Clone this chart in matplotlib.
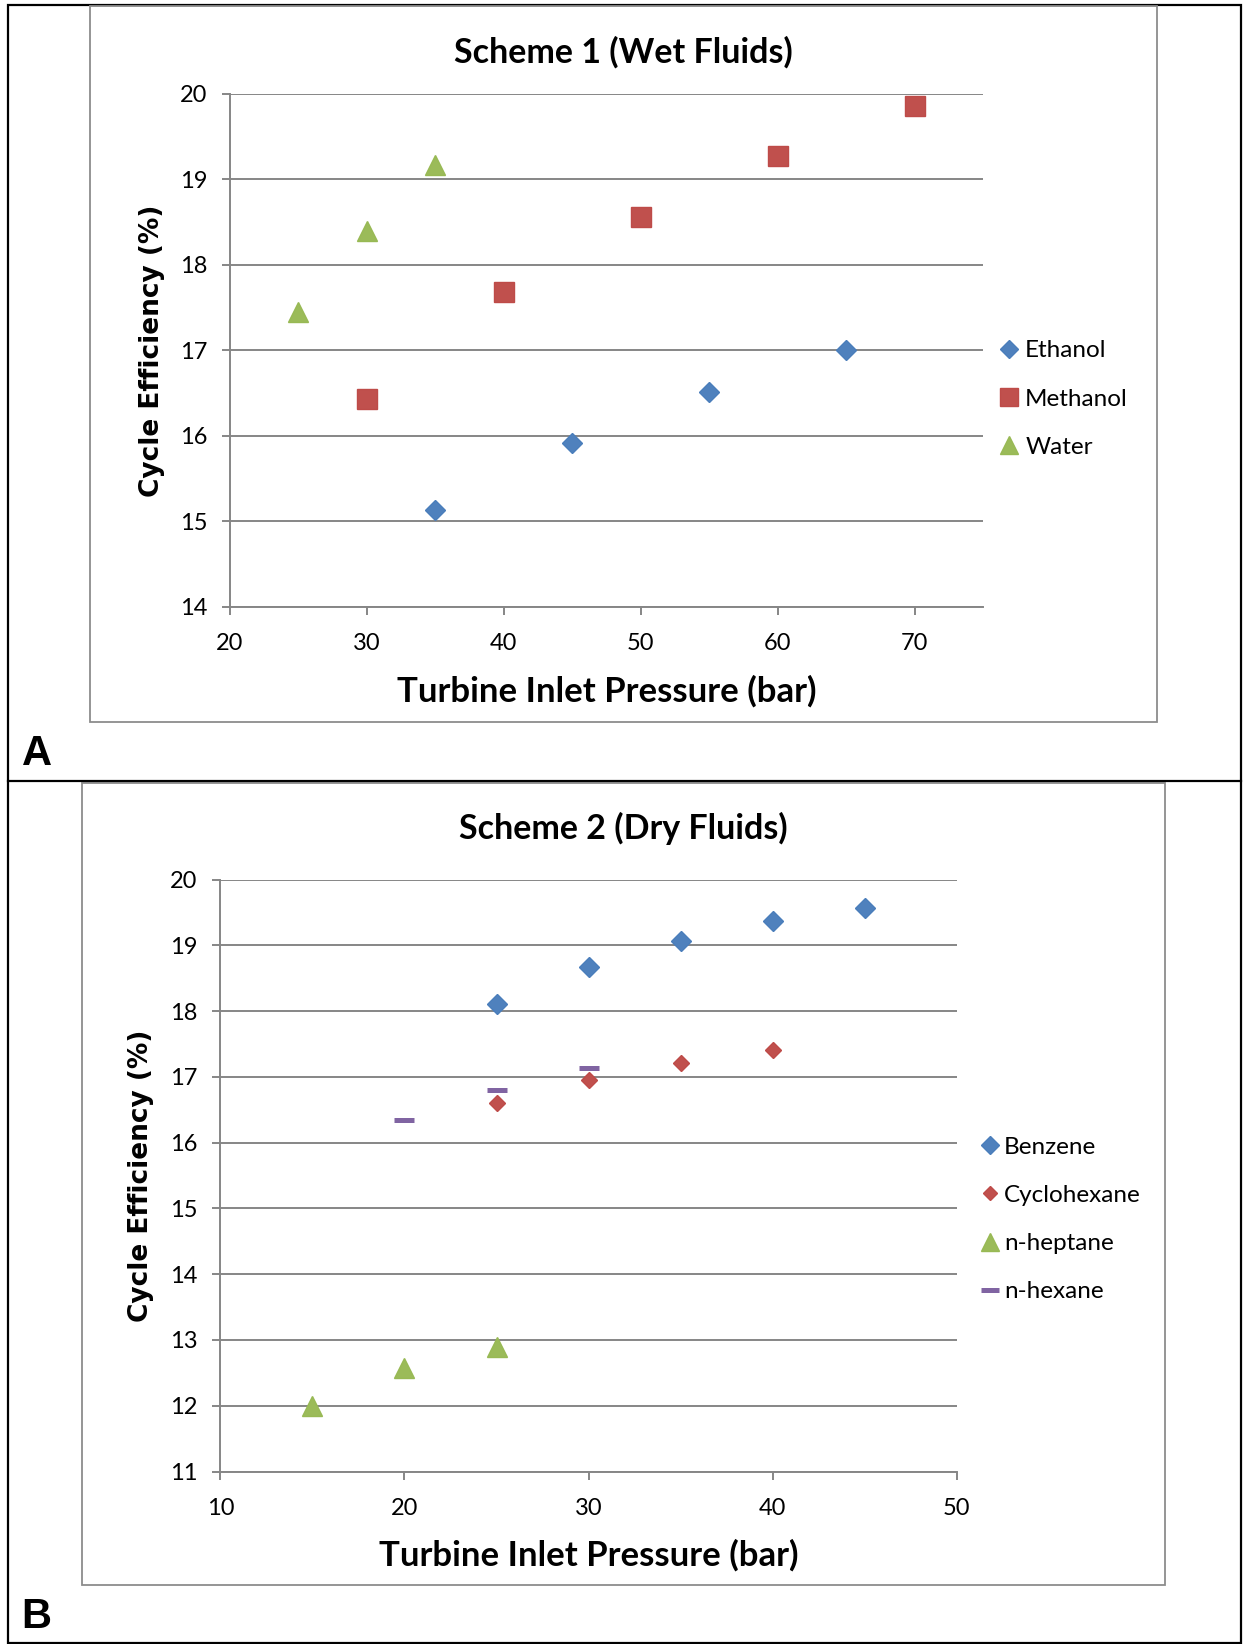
import matplotlib
matplotlib.use("Agg")
import matplotlib.pyplot as plt
from matplotlib.patches import Rectangle
from matplotlib.lines import Line2D

# ---- data ----
# Panel A: Scheme 1 (wet fluids)
ethanol_p = [35, 45, 55, 65]
ethanol_eff = [15.13, 15.92, 16.52, 17.0]
methanol_p = [30, 40, 50, 60, 70]
methanol_eff = [16.43, 17.69, 18.56, 19.28, 19.86]
water_p = [25, 30, 35]
water_eff = [17.45, 18.40, 19.17]

# Panel B: Scheme 2 (dry fluids)
benzene_p = [25, 30, 35, 40, 45]
benzene_eff = [18.11, 18.67, 19.07, 19.37, 19.57]
cyclohexane_p = [25, 30, 35, 40]
cyclohexane_eff = [16.60, 16.96, 17.22, 17.41]
heptane_p = [15, 20, 25]
heptane_eff = [12.0, 12.57, 12.89]
hexane_p = [20, 25, 30]
hexane_eff = [16.35, 16.80, 17.14]

x_ticks_a = [20, 30, 40, 50, 60, 70]
y_ticks_a = [14, 15, 16, 17, 18, 19, 20]
x_ticks_b = [10, 20, 30, 40, 50]
y_ticks_b = [11, 12, 13, 14, 15, 16, 17, 18, 19, 20]

BLUE = "#4F81BD"
RED = "#C0504D"
GREEN = "#9BBB59"
PURPLE = "#8064A2"
GRID = "#868686"
FRAME = "#8C8C8C"

W, H = 1243, 1644
fig = plt.figure(figsize=(W / 100, H / 100), dpi=100)

TXT = "Lato"
TICK_SIZE = 17
LEG_SIZE = 17.5


def fx(px):
    return px / W


def fy(py):
    return 1 - py / H


def add_axes(left, top, right, bottom):
    return fig.add_axes([fx(left), fy(bottom), fx(right - left), (bottom - top) / H])


def style(ax, xlim, ylim, xticks, yticks):
    ax.set_xlim(*xlim)
    ax.set_ylim(*ylim)
    ax.set_xticks(xticks)
    ax.set_yticks(yticks)
    ax.grid(axis="y", color=GRID, lw=1.4)
    ax.set_axisbelow(True)
    for s in ("top", "right"):
        ax.spines[s].set_visible(False)
    for s in ("left", "bottom"):
        ax.spines[s].set_color(GRID)
        ax.spines[s].set_linewidth(1.4)
    ax.tick_params(axis="both", color=GRID, width=1.4, length=6,
                   labelsize=TICK_SIZE, direction="out")
    ax.tick_params(axis="y", pad=10.5)
    ax.tick_params(axis="x", pad=13)
    for lab in ax.get_xticklabels() + ax.get_yticklabels():
        lab.set_family(TXT)


# outer black frame and separator
fig.add_artist(Rectangle((fx(8), fy(1643)), fx(1241 - 8), (1643 - 5) / H,
                         transform=fig.transFigure, fill=False, ec="black", lw=1.6))
fig.add_artist(Line2D([fx(8), fx(1241)], [fy(781), fy(781)],
                      transform=fig.transFigure, color="black", lw=1.6))
# chart-area frames
fig.add_artist(Rectangle((fx(90), fy(722)), fx(1157 - 90), (722 - 6) / H,
                         transform=fig.transFigure, fill=False, ec=FRAME, lw=1.3))
fig.add_artist(Rectangle((fx(82), fy(1585)), fx(1165 - 82), (1585 - 783) / H,
                         transform=fig.transFigure, fill=False, ec=FRAME, lw=1.3))

# ---- Panel A ----
ax1 = add_axes(230, 94, 983, 607)
style(ax1, (20, 75), (14, 20), x_ticks_a, y_ticks_a)
ax1.plot(ethanol_p, ethanol_eff, ls="none", marker="D", ms=10, color=BLUE,
         mec="#4A7EBB", label="Ethanol")
ax1.plot(methanol_p, methanol_eff, ls="none", marker="s", ms=14, color=RED,
         mec="#BE4B48", label="Methanol")
ax1.plot(water_p, water_eff, ls="none", marker="^", ms=14, color=GREEN,
         mec="#98B954", label="Water")
ax1.set_xlabel("Turbine Inlet Pressure (bar)", family=TXT, fontsize=25,
               fontweight="bold", va="center")
ax1.xaxis.set_label_coords(0.5, (607 - 691) / 513)
ax1.set_ylabel("Cycle Efficiency (%)", family="DejaVu Sans", fontsize=19,
               fontweight="bold", va="center")
ax1.yaxis.set_label_coords((152 - 230) / 753, 0.5)
fig.text(fx(623), fy(52), "Scheme 1 (Wet Fluids)", family=TXT, fontsize=24.5,
         fontweight="bold", ha="center", va="center")
leg1 = ax1.legend(loc="center left", bbox_to_anchor=(fx(998), fy(399)),
                  bbox_transform=fig.transFigure, frameon=False, numpoints=1,
                  handlelength=0.9, handletextpad=0.22, borderpad=0,
                  borderaxespad=0, labelspacing=1.12, markerscale=0.9,
                  prop={"family": TXT, "size": LEG_SIZE})

# ---- Panel B ----
ax2 = add_axes(220.4, 879.7, 956.8, 1471.5)
style(ax2, (10, 50), (11, 20), x_ticks_b, y_ticks_b)
ax2.plot(benzene_p, benzene_eff, ls="none", marker="D", ms=10.5, color=BLUE,
         mec="#4A7EBB", label="Benzene")
ax2.plot(cyclohexane_p, cyclohexane_eff, ls="none", marker="D", ms=8, color=RED,
         mec="#BE4B48", label="Cyclohexane")
ax2.plot(heptane_p, heptane_eff, ls="none", marker="^", ms=14, color=GREEN,
         mec="#98B954", label="n-heptane")
ax2.plot(hexane_p, hexane_eff, ls="none", marker="_", ms=14, mew=3.6,
         color=PURPLE, label="n-hexane")
ax2.set_xlabel("Turbine Inlet Pressure (bar)", family=TXT, fontsize=25,
               fontweight="bold", va="center")
ax2.xaxis.set_label_coords(0.5, (1471.5 - 1555) / 591.8)
ax2.set_ylabel("Cycle Efficiency (%)", family="DejaVu Sans", fontsize=19,
               fontweight="bold", va="center")
ax2.yaxis.set_label_coords((141.5 - 220.4) / 736.4, 0.5)
fig.text(fx(623), fy(828), "Scheme 2 (Dry Fluids)", family=TXT, fontsize=24.5,
         fontweight="bold", ha="center", va="center")
leg2 = ax2.legend(loc="center left", bbox_to_anchor=(fx(979), fy(1219.5)),
                  bbox_transform=fig.transFigure, frameon=False, numpoints=1,
                  handlelength=0.9, handletextpad=0.12, borderpad=0,
                  borderaxespad=0, labelspacing=1.12, markerscale=0.9,
                  prop={"family": TXT, "size": LEG_SIZE})

# panel letters
fig.text(fx(37), fy(754), "A", family="Liberation Sans", fontsize=30,
         fontweight="bold", ha="center", va="center")
fig.text(fx(36), fy(1617), "B", family="Liberation Sans", fontsize=30,
         fontweight="bold", ha="center", va="center")

fig.savefig("out.png", dpi=100)
